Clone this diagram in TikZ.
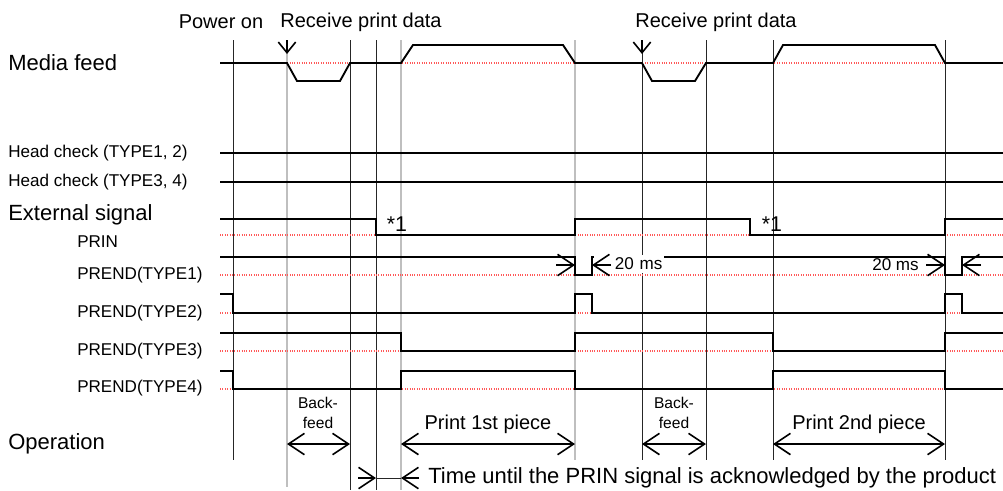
\documentclass[tikz,border=0pt]{standalone}
\usepackage{fontspec}
\setmainfont{Liberation Sans}
\usetikzlibrary{calc,arrows.meta}

\begin{document}
\begin{tikzpicture}[x=0.75pt,y=-0.75pt,
		>={Straight Barb[length=12pt,width=16pt]},
		sig/.style={line width=1.4pt},
		lvl/.style={red!65,densely dotted,line width=0.8pt},
		vline/.style={black!85,line width=0.7pt},
		vgray/.style={black!25,line width=2.2pt},
		dimarr/.style={line width=1.2pt},
		lbig/.style={font=\fontsize{16.5}{18}\selectfont,anchor=west,inner sep=0pt},
		ltop/.style={font=\fontsize{15}{18}\selectfont,inner sep=0pt},
		lsig/.style={font=\fontsize{12.8}{15}\selectfont,anchor=west,inner sep=0pt},
		lop/.style={font=\fontsize{11.7}{15}\selectfont,align=center,inner sep=0pt}]
			\useasboundingbox (0,0) rectangle (1003,490);

			% time instants
			\coordinate (P) at (233,0);
			\coordinate (R1) at (287,0);
			\coordinate (B1) at (350,0);
			\coordinate (A1) at (376,0);
			\coordinate (S1) at (401,0);
			\coordinate (E1) at (575,0);
			\coordinate (F1) at (592,0);
			\coordinate (R2) at (642,0);
			\coordinate (B2) at (706,0);
			\coordinate (S2) at (773,0);
			\coordinate (E2) at (945,0);
			\coordinate (F2) at (962,0);
			% heights
			\coordinate (top) at (0,40);
			\coordinate (bot) at (0,460);
			\coordinate (low) at (0,490);
			\coordinate (rtip) at (0,54);
			\coordinate (ms) at (0,265);
			\coordinate (op) at (0,444);
			\coordinate (tm) at (0,478);

			\foreach \t in {P,R2,B2,S2,E2}
				\draw[vline] (\t |- top) -- (\t |- bot);
			\foreach \t in {B1,A1}
				\draw[vline] (\t |- top) -- (\t |- low);
			\draw[vgray] (R1 |- top) -- (R1 |- 0,487);
			\draw[vgray] (S1 |- top) -- (S1 |- low);
			\draw[vgray] (E1 |- top) -- (E1 |- bot);

			\foreach \y in {63,153,182,235,275,313,351,389}
				\draw[lvl] (220,\y) -- (1003,\y);

			% media feed
			\draw[sig] (220,63) -- (287,63) -- (297,81) -- (340,81) -- (350,63) -- (401,63)
				-- (413,45) -- (563,45) -- (575,63) -- (642,63) -- (652,81) -- (695,81)
				-- (706,63) -- (773,63) -- (783,45) -- (935,45) -- (945,63) -- (1003,63);
			% head check
			\draw[sig] (220,153) -- (1003,153);
			\draw[sig] (220,182) -- (1003,182);
			% PRIN
			\draw[sig] (220,219) -- (376,219) -- (376,235) -- (575,235) -- (575,219) -- (750,219)
				-- (750,235) -- (945,235) -- (945,219) -- (1003,219);
			% PREND
			\draw[sig] (220,257) -- (575,257) -- (575,275) -- (592,275) -- (592,257) -- (945,257)
				-- (945,275) -- (962,275) -- (962,257) -- (1003,257);
			\draw[sig] (220,294) -- (233,294) -- (233,313) -- (575,313) -- (575,294) -- (592,294)
				-- (592,313) -- (945,313) -- (945,294) -- (962,294) -- (962,313) -- (1003,313);
			\draw[sig] (220,333) -- (401,333) -- (401,351) -- (575,351) -- (575,333) -- (773,333)
				-- (773,351) -- (945,351) -- (945,333) -- (1003,333);
			\draw[sig] (220,371) -- (233,371) -- (233,389) -- (401,389) -- (401,371) -- (575,371)
				-- (575,389) -- (773,389) -- (773,371) -- (945,371) -- (945,389) -- (1003,389);

			\node[ltop] (pon) at (221,22) {Power on};
			\node[ltop] (recv1) at (361,22) {Receive print data};
			\node[ltop] (recv2) at (716,22) {Receive print data};
			\draw[-{Straight Barb[length=8pt,width=13pt]},line width=1.2pt] (R1 |- top) -- (R1 |- rtip);
			\draw[-{Straight Barb[length=8pt,width=13pt]},line width=1.2pt] (R2 |- top) -- (R2 |- rtip);

			\node[lbig] (media) at (8,63) {Media feed};
			\node[lsig] (hc12) at (8,153) {Head check (TYPE1, 2)};
			\node[lsig] (hc34) at (8,182) {Head check (TYPE3, 4)};
			\node[lbig] (ext) at (8,215) {External signal};
			\node[lsig] (prin) at (77,242) {PRIN};
			\node[lsig] (pe1) at (77,275) {PREND(TYPE1)};
			\node[lsig] (pe2) at (77,313) {PREND(TYPE2)};
			\node[lsig] (pe3) at (77,351) {PREND(TYPE3)};
			\node[lsig] (pe4) at (77,388) {PREND(TYPE4)};
			\node[lbig] (oper) at (8,444) {Operation};

			\node[font=\fontsize{16}{18}\selectfont,inner sep=0pt] (n1a) at (397,224) {*1};
			\node[font=\fontsize{16}{18}\selectfont,inner sep=0pt] (n1b) at (772,224) {*1};

			\node[lsig,anchor=east,fill=white,inner sep=1pt,text width=50.5pt,align=right,
				minimum height=14pt] (ms1) at (664,264) {20 ms};
			\node[lsig,anchor=east] (ms2) at (919,265) {20 ms};
			\draw[->,dimarr] ($(E1 |- ms)+(-19,0)$) -- (E1 |- ms);
			\draw[->,dimarr] ($(F1 |- ms)+(19,0)$) -- (F1 |- ms);
			\draw[->,dimarr] ($(E2 |- ms)+(-19,0)$) -- (E2 |- ms);
			\draw[->,dimarr] ($(F2 |- ms)+(19,0)$) -- (F2 |- ms);

			\node[lop] (bf1) at (318,413) {Back-\\feed};
			\node[ltop] (pr1) at (488,424) {Print 1st piece};
			\node[lop] (bf2) at (674,413) {Back-\\feed};
			\node[ltop] (pr2) at (859,424) {Print 2nd piece};
			\draw[<->,dimarr] (R1 |- op) -- (B1 |- op);
			\draw[<->,dimarr] (S1 |- op) -- (E1 |- op);
			\draw[<->,dimarr] (R2 |- op) -- (B2 |- op);
			\draw[<->,dimarr] (S2 |- op) -- (E2 |- op);

			\draw[->,dimarr] ($(A1 |- tm)+(-18,0)$) -- (A1 |- tm);
			\draw[vline] (A1 |- tm) -- (S1 |- tm);
			\draw[->,dimarr] ($(S1 |- tm)+(18,0)$) -- (S1 |- tm);
			\node[lbig] (ack) at (428,478) {Time until the PRIN signal is acknowledged by the product};
		\end{tikzpicture}
\end{document}
